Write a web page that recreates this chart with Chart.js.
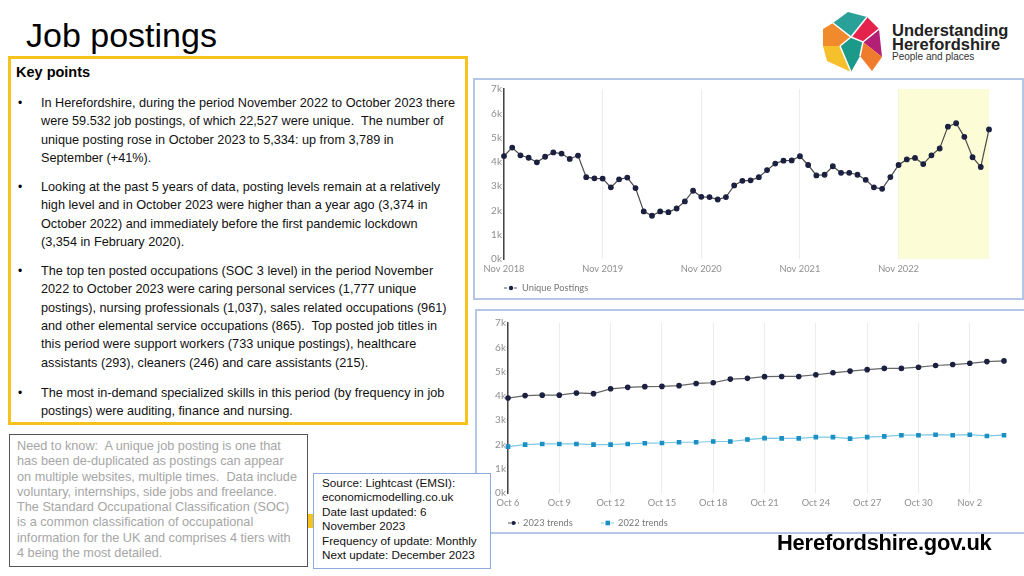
<!DOCTYPE html>
<html>
<head>
<meta charset="utf-8">
<script src="https://cdn.jsdelivr.net/npm/chart.js@4.4.1/dist/chart.umd.min.js"></script>
<style>
  body { margin: 0; background: #fff; font-family: Arial, "Liberation Sans", sans-serif; }
  #slide { position: relative; width: 1024px; height: 576px; overflow: hidden; background: #fff; }
  .abs { position: absolute; }
  #title { left: 26px; top: 18px; font-size: 34px; line-height: 34px; color: #000; }
  #keybox { left: 8px; top: 56px; width: 460px; height: 369px; box-sizing: border-box; border: 3px solid #f6c21c; }
  #keyhead { left: 16px; top: 63px; font-size: 14.5px; line-height: 18px; font-weight: bold; }
  .para { left: 41px; font-size: 12.7px; line-height: 18.4px; color: #111; white-space: nowrap; }
  .bul { left: 18px; font-size: 12px; line-height: 18.4px; }
  #needbox { left: 9px; top: 434px; width: 299px; height: 133px; box-sizing: border-box; border: 1px solid #555; }
  #needtxt { left: 17px; top: 439px; font-size: 12.7px; line-height: 15.3px; color: #a6a6a6; white-space: nowrap; }
  #tab { left: 308px; top: 514px; width: 5px; height: 14px; background: #f6c21c; }
  #srcbox { left: 313px; top: 473px; width: 178px; height: 96px; box-sizing: border-box; border: 1px solid #8eaadb; background: #fff; }
  #srctxt { left: 322px; top: 476px; font-size: 11.7px; line-height: 14.4px; color: #111; white-space: nowrap; }
  .chartbox { box-sizing: border-box; border: 2px solid #b4c7e7; }
  #box1 { left: 473px; top: 78px; width: 551px; height: 222px; }
  #box2 { left: 475px; top: 309px; width: 551px; height: 225px; }
  #c1wrap { left: 474px; top: 79px; width: 548px; height: 219px; }
  #c2wrap { left: 476px; top: 310px; width: 547px; height: 222px; }
  .legend { font-family: Lato, sans-serif; font-size: 9.3px; color: #777; white-space: nowrap; display: flex; align-items: center; }
  .legend svg { margin-right: 4px; }
  #logotxt { left: 892px; top: 23px; font-weight: bold; font-size: 16.5px; line-height: 14px; color: #222; }
  #logosub { left: 892px; top: 51px; font-size: 10px; color: #333; }
  #hgov { left: 777px; top: 530px; font-weight: bold; font-size: 21.9px; line-height: 26px; color: #000; letter-spacing: -0.2px; }
</style>
</head>
<body>
<div id="slide">
  <div id="title" class="abs">Job postings</div>

  <!-- logo -->
  <svg class="abs" style="left:820px;top:9px" width="64" height="66" viewBox="820 9 64 66">
    <polygon points="833,23 848,12 867,17 851,37" fill="#2aa198"/>
    <polygon points="867,17 879,29 863,42 851,37" fill="#e4224b"/>
    <polygon points="879,29 882,57 863,42" fill="#b21f74"/>
    <polygon points="882,57 872,71 860,56 863,42" fill="#ef7b2c"/>
    <polygon points="823,29 833,23 851,37 840,46 823,46" fill="#f08a2c"/>
    <polygon points="823,46 840,46 851,72 827,61" fill="#f6c02d"/>
    <polygon points="840,46 851,37 863,42 860,56 851,72" fill="#1b9a8a"/>
    <polyline points="833,23 851,37 863,42 879,29" fill="none" stroke="#fff" stroke-width="1.5"/>
    <line x1="851" y1="37" x2="840" y2="46" stroke="#fff" stroke-width="1.5"/>
    <line x1="840" y1="46" x2="851" y2="72" stroke="#fff" stroke-width="1.5"/>
    <line x1="863" y1="42" x2="860" y2="56" stroke="#fff" stroke-width="1.5"/>
    <line x1="851" y1="37" x2="867" y2="17" stroke="#fff" stroke-width="1.5"/>
  </svg>
  <div id="logotxt" class="abs">Understanding<br>Herefordshire</div>
  <div id="logosub" class="abs">People and places</div>

  <!-- key points -->
  <div id="keybox" class="abs"></div>
  <div id="keyhead" class="abs">Key points</div>
  <div class="abs bul" style="top:93.8px">•</div>
  <div class="abs para" style="top:93.8px">In Herefordshire, during the period November 2022 to October 2023 there<br>were 59.532 job postings, of which 22,527 were unique.&nbsp; The number of<br>unique posting rose in October 2023 to 5,334: up from 3,789 in<br>September (+41%).</div>
  <div class="abs bul" style="top:177.8px">•</div>
  <div class="abs para" style="top:177.8px">Looking at the past 5 years of data, posting levels remain at a relatively<br>high level and in October 2023 were higher than a year ago (3,374 in<br>October 2022) and immediately before the first pandemic lockdown<br>(3,354 in February 2020).</div>
  <div class="abs bul" style="top:261.8px">•</div>
  <div class="abs para" style="top:261.8px">The top ten posted occupations (SOC 3 level) in the period November<br>2022 to October 2023 were caring personal services (1,777 unique<br>postings), nursing professionals (1,037), sales related occupations (961)<br>and other elemental service occupations (865).&nbsp; Top posted job titles in<br>this period were support workers (733 unique postings), healthcare<br>assistants (293), cleaners (246) and care assistants (215).</div>
  <div class="abs bul" style="top:383.8px">•</div>
  <div class="abs para" style="top:383.8px">The most in-demand specialized skills in this period (by frequency in job<br>postings) were auditing, finance and nursing.</div>

  <!-- need to know -->
  <div id="needbox" class="abs"></div>
  <div id="needtxt" class="abs">Need to know:&nbsp; A unique job posting is one that<br>has been de-duplicated as postings can appear<br>on multiple websites, multiple times.&nbsp; Data include<br>voluntary, internships, side jobs and freelance.<br>The Standard Occupational Classification (SOC)<br>is a common classification of occupational<br>information for the UK and comprises 4 tiers with<br>4 being the most detailed.</div>
  <div id="tab" class="abs"></div>

  <!-- charts -->
  <div id="box1" class="abs chartbox"></div>
  <div id="box2" class="abs chartbox"></div>
  <div id="c1wrap" class="abs"><canvas id="chart1"></canvas></div>
  <div id="c2wrap" class="abs"><canvas id="chart2"></canvas></div>

  <div class="abs legend" style="left:504px;top:282px;">
    <svg width="14" height="8"><line x1="0" y1="4" x2="14" y2="4" stroke="#555" stroke-width="1.2" stroke-dasharray="3,2"/><circle cx="7" cy="4" r="2.2" fill="#1b2040"/></svg>Unique Postings
  </div>
  <div class="abs legend" style="left:508px;top:517px;">
    <svg width="11" height="8"><line x1="0" y1="4" x2="11" y2="4" stroke="#555" stroke-width="1.2" stroke-dasharray="3,2"/><circle cx="5.5" cy="4" r="2.1" fill="#1b2040"/></svg>2023 trends
  </div>
  <div class="abs legend" style="left:601px;top:517px;">
    <svg width="13" height="8"><line x1="0" y1="4" x2="13" y2="4" stroke="#7ec8e3" stroke-width="1.2" stroke-dasharray="3,2"/><rect x="4.5" y="1.7" width="4.6" height="4.6" fill="#1a8fc4"/></svg>2022 trends
  </div>

  <!-- source -->
  <div id="srcbox" class="abs"></div>
  <div id="srctxt" class="abs">Source: Lightcast (EMSI):<br>economicmodelling.co.uk<br>Date last updated: 6<br>November 2023<br>Frequency of update: Monthly<br>Next update: December 2023</div>

  <div id="hgov" class="abs">Herefordshire.gov.uk</div>
</div>

<script>
// ========== DATOS ==========
const months = [
  'Nov 2018','Dec 2018','Jan 2019','Feb 2019','Mar 2019','Apr 2019','May 2019','Jun 2019','Jul 2019','Aug 2019','Sep 2019','Oct 2019',
  'Nov 2019','Dec 2019','Jan 2020','Feb 2020','Mar 2020','Apr 2020','May 2020','Jun 2020','Jul 2020','Aug 2020','Sep 2020','Oct 2020',
  'Nov 2020','Dec 2020','Jan 2021','Feb 2021','Mar 2021','Apr 2021','May 2021','Jun 2021','Jul 2021','Aug 2021','Sep 2021','Oct 2021',
  'Nov 2021','Dec 2021','Jan 2022','Feb 2022','Mar 2022','Apr 2022','May 2022','Jun 2022','Jul 2022','Aug 2022','Sep 2022','Oct 2022',
  'Nov 2022','Dec 2022','Jan 2023','Feb 2023','Mar 2023','Apr 2023','May 2023','Jun 2023','Jul 2023','Aug 2023','Sep 2023','Oct 2023'
];
const uniquePostings = [
  4240, 4590, 4270, 4170, 3980, 4210, 4390, 4340, 4120, 4260, 3370, 3320,
  3310, 2950, 3280, 3354, 2920, 1960, 1780, 1960, 1930, 2080, 2370, 2810,
  2560, 2550, 2450, 2550, 3030, 3220, 3240, 3370, 3660, 3930, 4050, 4060,
  4230, 3870, 3440, 3470, 3820, 3550, 3550, 3470, 3260, 2950, 2890, 3374,
  3870, 4100, 4160, 3910, 4270, 4550, 5450, 5590, 5030, 4190, 3789, 5334
];
const highlightFrom = 'Nov 2022';

const days = [
  'Oct 6','Oct 7','Oct 8','Oct 9','Oct 10','Oct 11','Oct 12','Oct 13','Oct 14','Oct 15',
  'Oct 16','Oct 17','Oct 18','Oct 19','Oct 20','Oct 21','Oct 22','Oct 23','Oct 24','Oct 25',
  'Oct 26','Oct 27','Oct 28','Oct 29','Oct 30','Oct 31','Nov 1','Nov 2','Nov 3','Nov 4'
];
const trends2023 = [
  3910, 4010, 4030, 4030, 4120, 4090, 4290, 4350, 4380, 4390,
  4420, 4510, 4540, 4690, 4720, 4790, 4800, 4800, 4870, 4950,
  5020, 5080, 5130, 5130, 5180, 5250, 5290, 5340, 5410, 5440
];
const trends2022 = [
  1910, 1990, 2020, 2020, 2020, 1990, 1990, 2020, 2050, 2060,
  2090, 2090, 2120, 2120, 2200, 2260, 2250, 2250, 2300, 2300,
  2240, 2300, 2330, 2380, 2380, 2400, 2380, 2400, 2350, 2380
];
const yTicks = [0, 1000, 2000, 3000, 4000, 5000, 6000, 7000];

// ========== OPCIONES COMUNES ==========
Chart.defaults.font.family = 'Lato, sans-serif';
Chart.defaults.font.size = 9.3;
Chart.defaults.color = '#8f8f8f';

function yScale(width) {
    return {
        min: 0, max: 7000,
        afterBuildTicks: s => { s.ticks = yTicks.map(v => ({ value: v })); },
        afterFit: s => { s.width = width; },
        ticks: { callback: v => (v / 1000) + 'k', padding: 2, font: { size: 10 } },
        grid: { display: false, drawTicks: false },
        border: { display: true, color: '#444', width: 1.5 }
    };
}
function xScale(every) {
    return {
        offset: false,
        afterFit: s => { s.height = 18; },
        ticks: {
            autoSkip: false, maxRotation: 0, padding: 4,
            callback: function (v, i) { return i % every === 0 ? this.getLabelForValue(v) : ''; }
        },
        grid: {
            drawTicks: false,
            color: c => (c.index % every === 0 ? '#ececec' : 'rgba(0,0,0,0)')
        },
        border: { display: false }
    };
}

// zona destacada (Nov 2022 en adelante)
const highlight = {
    id: 'highlight',
    beforeDatasetsDraw(chart) {
        const { ctx, chartArea, scales } = chart;
        const x0 = scales.x.getPixelForValue(months.indexOf(highlightFrom));
        ctx.save();
        ctx.fillStyle = '#fcfcd6';
        ctx.fillRect(x0, chartArea.top, chartArea.right - x0, chartArea.bottom - chartArea.top);
        ctx.restore();
    }
};

// ========== GRAFICO 1 ==========
new Chart(document.getElementById('chart1'), {
    type: 'line',
    data: {
        labels: months,
        datasets: [{
            label: 'Unique Postings',
            data: uniquePostings,
            borderColor: '#4a4a4a',
            borderWidth: 1.2,
            pointBackgroundColor: '#1b2040',
            pointBorderColor: '#1b2040',
            pointRadius: 2.3,
            tension: 0
        }]
    },
    options: {
        responsive: true, maintainAspectRatio: false, animation: false,
        layout: { padding: { left: 0, right: 33, top: 10, bottom: 21 } },
        plugins: { legend: { display: false }, tooltip: { enabled: false } },
        scales: { x: xScale(12), y: yScale(30) }
    },
    plugins: [highlight]
});

// ========== GRAFICO 2 ==========
new Chart(document.getElementById('chart2'), {
    type: 'line',
    data: {
        labels: days,
        datasets: [{
            label: '2023 trends',
            data: trends2023,
            borderColor: '#666',
            borderWidth: 1.2,
            pointBackgroundColor: '#1b2040',
            pointBorderColor: '#1b2040',
            pointRadius: 2.2
        }, {
            label: '2022 trends',
            data: trends2022,
            borderColor: '#7ec8e3',
            borderWidth: 1.2,
            pointStyle: 'rect',
            pointBackgroundColor: '#1a8fc4',
            pointBorderColor: '#1a8fc4',
            pointRadius: 2.4
        }]
    },
    options: {
        responsive: true, maintainAspectRatio: false, animation: false,
        layout: { padding: { left: 0, right: 19, top: 13, bottom: 21 } },
        plugins: { legend: { display: false }, tooltip: { enabled: false } },
        scales: { x: xScale(3), y: yScale(32) }
    }
});
</script>
</body>
</html>
